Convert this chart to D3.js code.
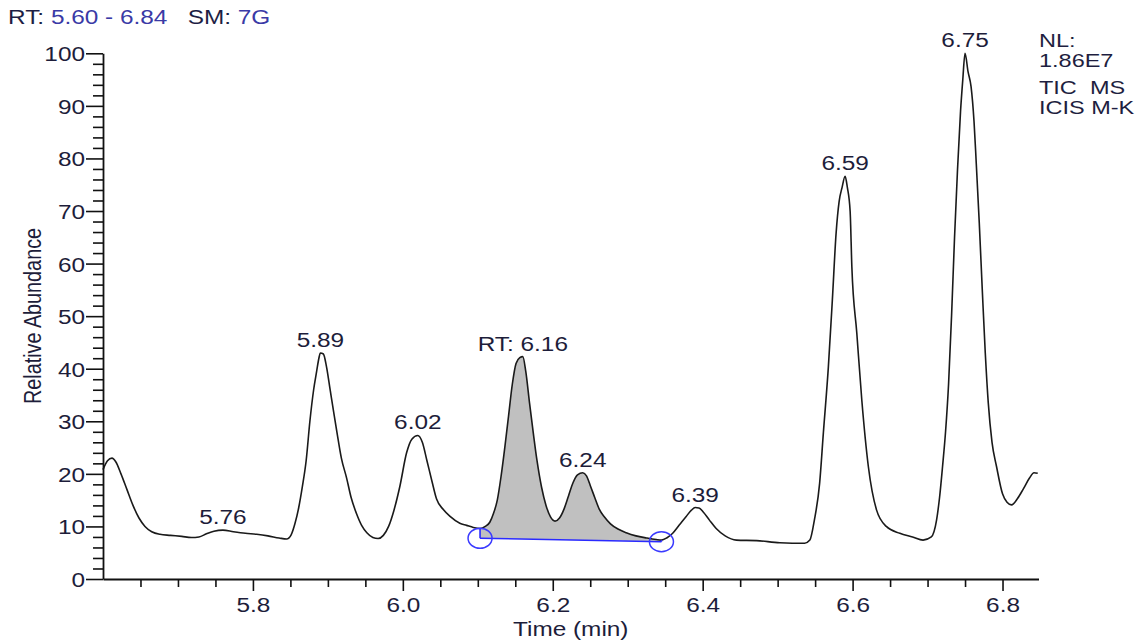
<!DOCTYPE html>
<html>
<head>
<meta charset="utf-8">
<script src="https://cdn.jsdelivr.net/npm/d3@7"></script>
<style>
  html, body { margin: 0; padding: 0; background: #fff; }
  svg { display: block; }
  text { font-family: Arial, "Liberation Sans", sans-serif; font-size: 19.5px; white-space: pre; }
</style>
</head>
<body>
<svg id="chart" width="1137" height="643"></svg>
<script>
// Retention time (min) of each sample of the TIC trace
const times = [
  5.600, 5.606, 5.612, 5.617, 5.624, 5.632, 5.640, 5.648, 5.656, 5.665,
  5.676, 5.690, 5.705, 5.718, 5.728, 5.738, 5.748, 5.760, 5.774, 5.790,
  5.805, 5.820, 5.835, 5.845, 5.851, 5.856, 5.861, 5.866, 5.871, 5.876,
  5.881, 5.885, 5.888, 5.890, 5.894, 5.898, 5.903, 5.908, 5.912, 5.918,
  5.925, 5.931, 5.938, 5.945, 5.952, 5.960, 5.967, 5.974, 5.981, 5.988,
  5.996, 6.005, 6.012, 6.020, 6.026, 6.032, 6.039, 6.045, 6.054, 6.063,
  6.076, 6.085, 6.094, 6.103, 6.110, 6.116, 6.121, 6.126, 6.131, 6.136,
  6.141, 6.146, 6.151, 6.156, 6.160, 6.164, 6.169, 6.174, 6.179, 6.185,
  6.191, 6.197, 6.203, 6.209, 6.215, 6.221, 6.227, 6.233, 6.240, 6.245,
  6.250, 6.256, 6.262, 6.269, 6.277, 6.287, 6.298, 6.311, 6.325, 6.338,
  6.345, 6.352, 6.360, 6.369, 6.378, 6.385, 6.390, 6.395, 6.401, 6.409,
  6.418, 6.430, 6.445, 6.472, 6.503, 6.536, 6.543, 6.549, 6.556, 6.561,
  6.5677, 6.573, 6.578, 6.582, 6.586, 6.590, 6.593, 6.5967, 6.599, 6.6056,
  6.6123, 6.621, 6.632, 6.645, 6.663, 6.680, 6.694, 6.705, 6.712, 6.716,
  6.720, 6.724, 6.728, 6.732, 6.736, 6.740, 6.744, 6.747, 6.750, 6.754,
  6.758, 6.762, 6.765, 6.769, 6.773, 6.777, 6.781, 6.786, 6.792, 6.800,
  6.806, 6.812, 6.820, 6.828, 6.836, 6.842, 6.847
];

// Relative abundance (%) at each retention time
const abundance = [
  20.8, 22.5, 23.0, 22.3, 20.0, 17.0, 14.0, 11.6, 10.0, 9.0,
  8.5, 8.3, 8.1, 7.9, 8.0, 8.6, 9.1, 9.3, 9.0, 8.7,
  8.5, 8.2, 7.8, 7.6, 8.4, 10.5, 13.5, 17.6, 22.5, 30.0,
  36.0, 39.5, 42.0, 43.0, 42.8, 40.5, 36.0, 31.5, 28.0, 23.0,
  19.2, 15.5, 12.5, 10.2, 8.8, 7.9, 7.7, 8.3, 10.0, 13.0,
  17.6, 24.0, 26.6, 27.3, 26.0, 22.6, 18.5, 15.2, 13.2, 11.9,
  10.6, 10.2, 9.8, 9.6, 10.0, 10.8, 12.5, 15.0, 19.5, 25.0,
  31.0, 37.0, 41.0, 42.1, 42.3, 39.5, 33.5, 27.8, 22.5, 17.5,
  14.0, 11.8, 11.0, 11.6, 13.3, 15.8, 18.3, 19.8, 20.2, 19.6,
  17.8, 15.5, 13.3, 11.8, 10.5, 9.5, 8.8, 8.2, 7.8, 7.5,
  7.4, 7.8, 8.7, 10.3, 11.9, 13.1, 13.6, 13.5, 12.7, 11.2,
  9.6, 8.2, 7.4, 7.3, 6.9, 6.8, 7.4, 11.2, 18.2, 27.8,
  40.4, 53.1, 65.8, 71.8, 74.5, 76.6, 74.5, 70.0, 59.4, 46.8,
  34.0, 21.4, 13.1, 10.0, 8.7, 8.0, 7.4, 8.0, 11.2, 15.5,
  21.4, 28.0, 37.0, 50.0, 65.0, 78.0, 89.0, 95.0, 100.0, 96.5,
  93.7, 87.0, 79.0, 67.7, 55.0, 43.0, 33.5, 26.0, 21.4, 16.2,
  14.6, 14.1, 15.3, 17.2, 19.2, 20.2, 20.1
];

// Labelled apexes
const peakTimes  = [5.76, 5.89, 6.02, 6.16, 6.24, 6.39, 6.59, 6.75];
const peakLabels = ["5.76", "5.89", "6.02", "RT: 6.16", "6.24", "6.39", "6.59", "6.75"];

// Integrated peak: start / end of the baseline (time, abundance)
const baseStart = [6.103, 7.75];
const baseEnd   = [6.345, 7.1];

// Axis ticks
const xMajorTicks = [5.8, 6.0, 6.2, 6.4, 6.6, 6.8];
const xMinorTicks = [5.65, 5.70, 5.75, 5.85, 5.90, 5.95, 6.05, 6.10, 6.15, 6.25, 6.30, 6.35,
                     6.45, 6.50, 6.55, 6.65, 6.70, 6.75];
const yMajorTicks = [0, 10, 20, 30, 40, 50, 60, 70, 80, 90, 100];
const yMinorTicks = d3.range(2, 100, 2).filter(v => v % 10 !== 0);

// Header and side annotation
const headerParts = [["RT: ", "key"], ["5.60 - 6.84", "val"], ["   SM: ", "key"], ["7G", "val"]];
const sideNotes = ["NL:", "1.86E7", "TIC  MS", "ICIS M-K"];

const SX = 1.25; // horizontal text stretch
const textDark = "#1d1d3a";

const svg = d3.select("#chart");
const x = d3.scaleLinear().domain([5.6, 6.848]).range([103, 1038.5]);
const y = d3.scaleLinear().domain([0, 100]).range([579, 53.3]);

const data = times.map((t, i) => ({ t, v: abundance[i] }));

// Integrated area (grey) between trace and baseline
const baseAt = t => baseStart[1] + (baseEnd[1] - baseStart[1]) * (t - baseStart[0]) / (baseEnd[0] - baseStart[0]);
const areaData = data.filter(d => d.t >= baseStart[0] - 1e-9 && d.t <= baseEnd[0] + 1e-9);
svg.append("path")
  .datum(areaData)
  .attr("fill", "#c0c0c0")
  .attr("d", d3.area().curve(d3.curveMonotoneX)
    .x(d => x(d.t)).y0(d => y(baseAt(d.t))).y1(d => y(d.v)));

// Trace
svg.append("path")
  .datum(data)
  .attr("fill", "none")
  .attr("stroke", "#1a1a1a")
  .attr("stroke-width", 1.6)
  .attr("stroke-linejoin", "round")
  .attr("d", d3.line().curve(d3.curveMonotoneX).x(d => x(d.t)).y(d => y(d.v)));

// Baseline with its endpoint markers
const blue = "#2a2aff";
const valueAt = t => data.find(d => Math.abs(d.t - t) < 1e-6).v;
svg.append("line")
  .attr("x1", x(baseStart[0])).attr("y1", y(baseStart[1]))
  .attr("x2", x(baseEnd[0])).attr("y2", y(baseEnd[1]))
  .attr("stroke", blue).attr("stroke-width", 1.6);
[baseStart, baseEnd].forEach(p => {
  svg.append("line")
    .attr("x1", x(p[0])).attr("x2", x(p[0]))
    .attr("y1", y(valueAt(p[0]))).attr("y2", y(p[1]))
    .attr("stroke", blue).attr("stroke-width", 1.6);
  svg.append("ellipse")
    .attr("cx", x(p[0])).attr("cy", y(p[1]))
    .attr("rx", 12).attr("ry", 10)
    .attr("fill", "none").attr("stroke", "#3a3aff").attr("stroke-width", 1.5);
});

// Axes
const axisColor = "#111";
const gx = svg.append("g").attr("transform", `translate(0,${y(0)})`);
gx.call(d3.axisBottom(x).tickValues(xMinorTicks).tickSize(8).tickFormat(""));
gx.call(g => g.select(".domain").remove());
const gxMaj = svg.append("g").attr("transform", `translate(0,${y(0)})`);
gxMaj.call(d3.axisBottom(x).tickValues(xMajorTicks).tickSize(12).tickSizeOuter(0)
  .tickFormat(d3.format(".1f")).tickPadding(8));
gxMaj.selectAll("text")
  .attr("y", 33).attr("dy", 0)
  .attr("transform", `scale(${SX},1)`)
  .attr("fill", textDark).style("font-size", "19.5px");

const gy = svg.append("g").attr("transform", `translate(${x(5.6)},0)`);
gy.call(d3.axisLeft(y).tickValues(yMinorTicks).tickSize(10).tickFormat(""));
gy.call(g => g.select(".domain").remove());
const gyMaj = svg.append("g").attr("transform", `translate(${x(5.6)},0)`);
gyMaj.call(d3.axisLeft(y).tickValues(yMajorTicks).tickSize(17).tickSizeOuter(0).tickFormat(d3.format("d")));
gyMaj.selectAll("text")
  .attr("x", -18 / SX).attr("dy", 7.5)
  .attr("transform", `scale(${SX},1)`)
  .attr("fill", textDark).style("font-size", "19.5px");

svg.selectAll(".tick line").attr("stroke", axisColor).attr("stroke-width", 1.6);
svg.selectAll(".domain").attr("stroke", axisColor).attr("stroke-width", 1.8);
svg.selectAll("g text").attr("font-family", null);

// Axis titles
function stretchedText(px, py, str, anchor, color) {
  return svg.append("text")
    .attr("transform", `translate(${px},${py}) scale(${SX},1)`)
    .attr("text-anchor", anchor)
    .attr("fill", color || textDark)
    .text(str);
}
stretchedText((x.range()[0] + x.range()[1]) / 2, 636, "Time (min)", "middle");
svg.append("text")
  .attr("transform", `translate(41,316) scale(${SX},1) rotate(-90)`)
  .attr("text-anchor", "middle")
  .attr("fill", textDark)
  .style("font-size", "19.8px")
  .text("Relative Abundance");

// Peak labels
peakTimes.forEach((t, i) => {
  stretchedText(x(t), y(valueAt(t)) - 6, peakLabels[i], "middle");
});

// Header line
const header = svg.append("text")
  .attr("transform", `translate(8,24) scale(${SX},1)`);
headerParts.forEach(([s, kind]) => {
  header.append("tspan")
    .attr("fill", kind === "key" ? "#1e1e44" : "#3a3aa6")
    .text(s);
});

// Side annotation
const noteY = [47, 67, 94, 114];
sideNotes.forEach((s, i) =>
  stretchedText(1039, noteY[i], s, "start", "#1e1e40").style("font-size", "18.8px"));
</script>
</body>
</html>
